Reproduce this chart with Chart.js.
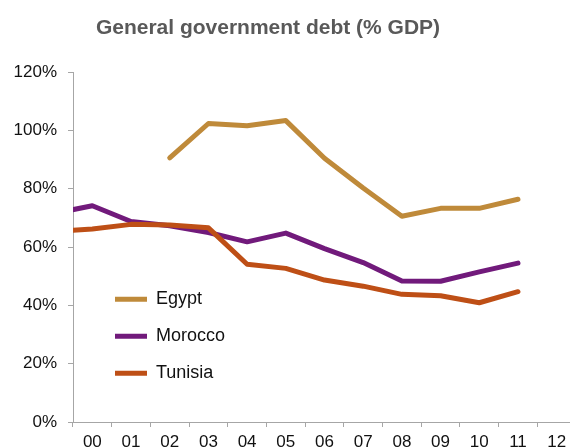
<!DOCTYPE html>
<html>
<head>
<meta charset="utf-8">
<script src="https://cdn.jsdelivr.net/npm/chart.js@4.4.1/dist/chart.umd.min.js"></script>
<style>
  html, body { margin: 0; padding: 0; background: #ffffff; }
  #wrap { position: relative; width: 570px; height: 448px; overflow: hidden; background: #ffffff; }
  #c { position: absolute; left: -40px; top: 0; }
</style>
</head>
<body>
<div id="wrap"><canvas id="c" width="616" height="448"></canvas></div>
<script>
// Years (two-digit); '99' only feeds the clipped start of the lines
const categories = ['99', '00', '01', '02', '03', '04', '05', '06', '07', '08', '09', '10', '11', '12'];
const firstShownCategory = '00';

// General government debt, % of GDP
const egypt   = [null, null, null, 90.6, 102.4, 101.6, 103.4, 90.5, 80.3, 70.6, 73.3, 73.3, 76.4, null];
const morocco = [71.5, 74.2, 68.8, 67.3, 65.0, 61.8, 64.8, 59.5, 54.7, 48.4, 48.3, 51.5, 54.5, null];
const tunisia = [65.4, 66.2, 67.8, 67.6, 66.6, 54.1, 52.7, 48.7, 46.6, 43.8, 43.3, 40.9, 44.7, null];

const yTickValues = [0, 20, 40, 60, 80, 100, 120];
const titleText = 'General government debt (% GDP)';

const COL_EGYPT = '#BF8A3A';
const COL_MOROCCO = '#711A7B';
const COL_TUNISIA = '#BE4F16';
const AXIS_COL = '#A6A6A6';
const TEXT_COL = '#111111';
const FONT = '"Liberation Sans", Arial, Helvetica, sans-serif';

Chart.defaults.font.family = FONT;

function lineSet(label, data, color) {
  return {
    label: label,
    data: data,
    borderColor: color,
    backgroundColor: color,
    borderWidth: 5,
    borderCapStyle: 'round',
    borderJoinStyle: 'round',
    pointRadius: 0,
    pointHoverRadius: 0,
    tension: 0,
    fill: false,
    spanGaps: false,
    clip: { left: 0, top: 6, right: 6, bottom: 6 }
  };
}

// place the legend inside the plot, lower left
const legendPlacer = {
  id: 'legendPlacer',
  afterLayout(chart) {
    const lg = chart.legend;
    const a = chart.chartArea;
    if (!lg) return;
    lg.left = a.left + 23;
    lg.right = lg.left + 200;
    lg.top = a.top + 199;
    lg.bottom = a.bottom;
  }
};

new Chart(document.getElementById('c'), {
  type: 'line',
  data: {
    labels: categories,
    datasets: [
      lineSet('Tunisia', tunisia, COL_TUNISIA),
      lineSet('Morocco', morocco, COL_MOROCCO),
      lineSet('Egypt', egypt, COL_EGYPT)
    ]
  },
  options: {
    responsive: false,
    animation: false,
    devicePixelRatio: 1,
    layout: { padding: { left: 0, right: 0, top: 0, bottom: 0 } },
    plugins: {
      title: {
        display: true,
        text: titleText,
        color: '#595959',
        font: { family: FONT, size: 21, weight: 'bold' },
        padding: { top: 16, bottom: 31 }
      },
      legend: {
        display: true,
        position: 'chartArea',
        align: 'start',
        reverse: true,
        labels: {
          usePointStyle: true,
          pointStyle: 'line',
          pointStyleWidth: 32,
          padding: 19,
          color: TEXT_COL,
          font: { family: FONT, size: 18 }
        }
      },
      tooltip: { enabled: false }
    },
    scales: {
      x: {
        type: 'category',
        min: firstShownCategory,
        offset: true,
        afterFit(scale) { scale.height = 26; },
        grid: {
          display: true,
          offset: true,
          drawOnChartArea: false,
          drawTicks: true,
          tickLength: 5,
          color: AXIS_COL,
          lineWidth: 1
        },
        border: { display: true, color: AXIS_COL, width: 1 },
        ticks: {
          padding: 5,
          maxRotation: 0,
          autoSkip: false,
          color: TEXT_COL,
          font: { family: FONT, size: 17 }
        }
      },
      y: {
        type: 'linear',
        min: 0,
        max: 120,
        afterFit(scale) { scale.width = 113; },
        afterBuildTicks(scale) { scale.ticks = yTickValues.map(v => ({ value: v })); },
        grid: {
          display: true,
          drawOnChartArea: false,
          drawTicks: true,
          tickLength: 5,
          color: AXIS_COL,
          lineWidth: 1
        },
        border: { display: true, color: AXIS_COL, width: 1 },
        ticks: {
          padding: 11,
          color: TEXT_COL,
          font: { family: FONT, size: 17 },
          callback: (v) => v + '%'
        }
      }
    }
  },
  plugins: [legendPlacer]
});
</script>
</body>
</html>
